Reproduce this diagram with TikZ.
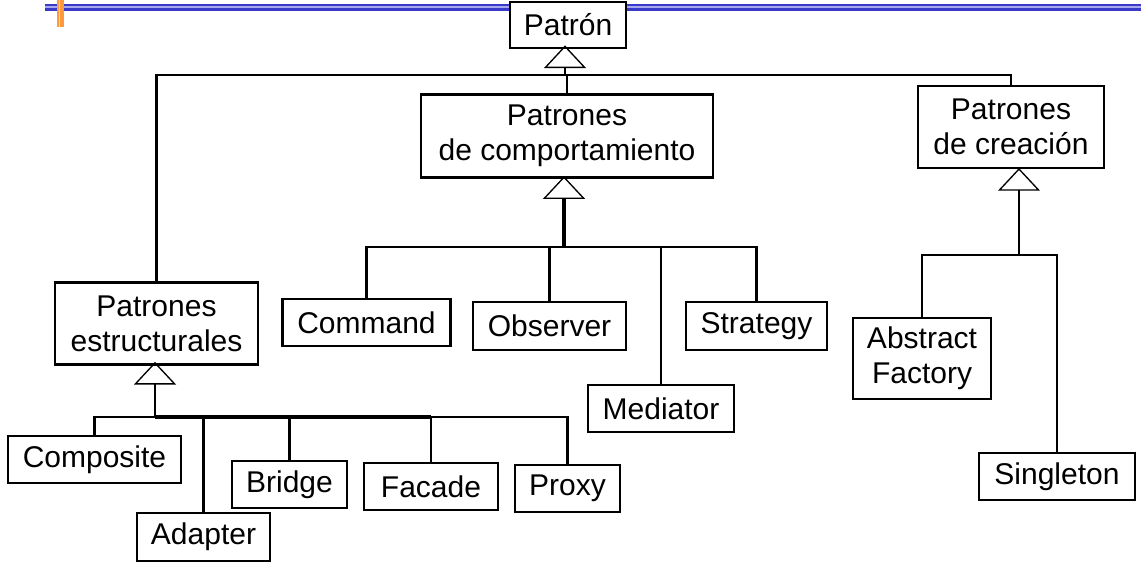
\documentclass[tikz,border=0pt]{standalone}
\usepackage{fontspec}
\setmainfont{Liberation Sans}
\usetikzlibrary{arrows.meta}
\definecolor{barblue}{HTML}{3A3AC8}
\definecolor{barlight}{HTML}{A8A8EE}
\definecolor{barorange}{HTML}{FF9A3C}
\definecolor{barorlight}{HTML}{FFD0A0}
\begin{document}
\begin{tikzpicture}[x=0.75pt,y=-0.75pt,
  box/.style={draw, fill=white, line width=2.1pt, inner sep=0pt, align=center,
    font=\fontsize{22.5}{26.5}\selectfont},
  sz/.style 2 args={minimum width=#1*0.75pt, minimum height=#2*0.75pt},
  conn/.style={line width=1.9pt},
  gen/.style={line width=1.9pt, -{Triangle[open, length=17pt, width=31.5pt, line width=1pt]}},
]
\useasboundingbox (0,0) rectangle (1141,568);
% header bar
\fill[barblue] (45,3.5) rectangle (1141,10.9);
\fill[barlight] (45,6.4) rectangle (1141,8.0);
\fill[barorange] (57,0) rectangle (59,27);
\fill[barorlight] (59,0) rectangle (60,27);
\fill[barorange] (60,0) rectangle (64,27);

% nodes
\node[box, sz={116}{46}] (patron) at (568,25) {Patrón};
\node[box, sz={292}{83}] (comp) at (567,136) {Patrones\\de comportamiento};
\node[box, sz={186}{82}] (crea) at (1011,127) {Patrones\\de creación};
\node[box, sz={203}{82}] (estr) at (156.5,323.5) {Patrones\\estructurales};
\node[box, sz={168}{47}] (command) at (366.5,322.5) {Command};
\node[box, sz={153}{48}] (observer) at (549.5,326) {Observer};
\node[box, sz={141}{48}] (strategy) at (756.5,326) {Strategy};
\node[box, sz={146}{47}] (mediator) at (661,408.5) {Mediator};
\node[box, sz={138}{81}] (abstract) at (922,358.5) {Abstract\\Factory};
\node[box, sz={156}{47}] (singleton) at (1057,476.5) {Singleton};
\node[box, sz={173}{47}] (composite) at (94.5,459.5) {Composite};
\node[box, sz={133}{48}] (adapter) at (203.5,537) {Adapter};
\node[box, sz={115}{47}] (bridge) at (289.5,484.5) {Bridge};
\node[box, sz={134}{47}] (facade) at (431,486.5) {Facade};
\node[box, sz={105}{47}] (proxy) at (567.5,488.5) {Proxy};

% junctions
\coordinate (J0) at (565,75);
\coordinate (J1) at (564,247);
\coordinate (J2) at (155,417);
\coordinate (J3) at (1019,255);

% top level
\draw[gen] (J0) -- ([yshift=3pt]J0 |- patron.south);
\draw[conn] (estr.north) -- (estr.north |- J0) -- (crea.north |- J0) -- (crea.north);
\draw[conn] (comp.north) -- (comp.north |- J0);

% behavioural
\draw[gen, line width=2.6pt] (J1) -- ([yshift=2pt]J1 |- comp.south);
\draw[conn] (command.north) -- (command.north |- J1) -- (strategy.north |- J1) -- (strategy.north);
\draw[conn] (observer.north) -- (observer.north |- J1);
\draw[conn] (mediator.north) -- (mediator.north |- J1);

% structural
\draw[gen] (J2) -- ([yshift=3pt]J2 |- estr.south);
\draw[conn] (composite.north) -- (composite.north |- J2) -- (proxy.north |- J2) -- (proxy.north);
\draw[conn] (adapter.north) -- (adapter.north |- J2);
\draw[conn] (bridge.north) -- (bridge.north |- J2);
\draw[conn] (facade.north) -- (facade.north |- J2);
\draw[line width=2.6pt] (J2) -- (facade.north |- J2);

% creational
\draw[gen] (J3) -- ([yshift=1pt]J3 |- crea.south);
\draw[conn] (abstract.north) -- (abstract.north |- J3) -- (singleton.north |- J3) -- (singleton.north);
\end{tikzpicture}
\end{document}
